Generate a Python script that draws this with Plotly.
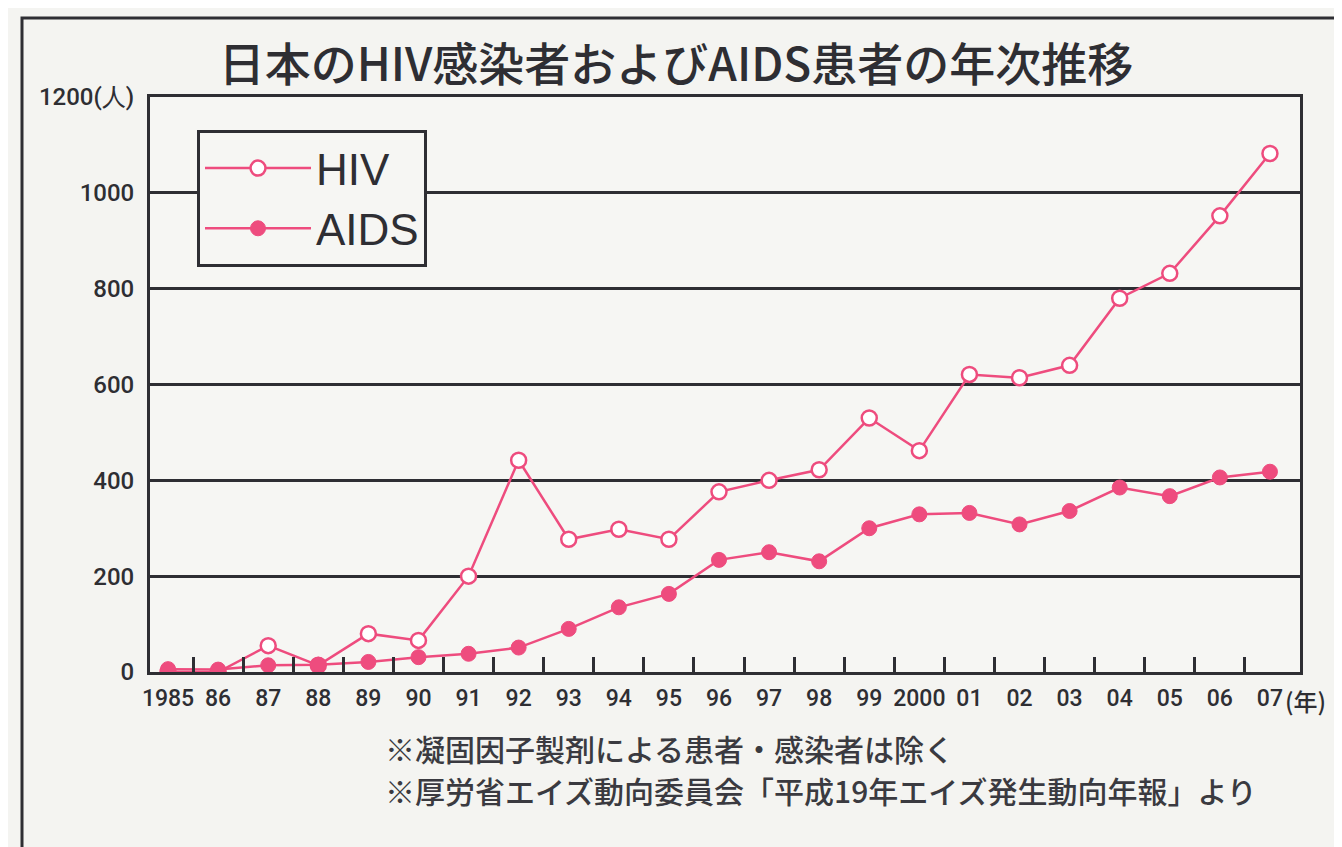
import plotly.graph_objects as go

years = list(range(1985, 2008))
year_labels = ["1985", "86", "87", "88", "89", "90", "91", "92", "93", "94", "95",
               "96", "97", "98", "99", "2000", "01", "02", "03", "04", "05", "06", "07"]
hiv = [0, 0, 55, 14, 80, 66, 200, 442, 277, 298, 277, 376, 400, 422, 530, 462,
       621, 614, 640, 780, 832, 952, 1082]
aids = [6, 5, 14, 15, 21, 31, 38, 51, 90, 135, 163, 234, 250, 231, 300, 329,
        332, 308, 336, 385, 367, 406, 418]
y_ticks = [0, 200, 400, 600, 800, 1000, 1200]
y_labels = ["0", "200", "400", "600", "800", "1000", "1200(人)"]

title = "日本のHIV感染者およびAIDS患者の年次推移"
notes = ["※凝固因子製剤による患者・感染者は除く",
         "※厚労省エイズ動向委員会「平成19年エイズ発生動向年報」より"]

PINK = "#EE4C7E"
INK = "#2E2E33"
NUM = "Roboto, Liberation Sans, sans-serif"
JP = "Noto Sans CJK JP, sans-serif"

# page body has an 8px default margin -> place everything 8px up/left
OFF = 8
W, H = 1342, 847
L, T, PW, PH = 150 - OFF, 97 - OFF, 1150, 575


def px_x(x):
    return (x - OFF - L) / PW


def px_y(y):
    return (T + PH - (y - OFF)) / PH


fig = go.Figure()
fig.add_trace(go.Scatter(
    x=years, y=hiv, name="HIV", mode="lines+markers",
    line=dict(color=PINK, width=2.5),
    marker=dict(symbol="circle", size=15, color="white", line=dict(color=PINK, width=2.5)),
))
fig.add_trace(go.Scatter(
    x=years, y=aids, name="AIDS", mode="lines+markers",
    line=dict(color=PINK, width=2.5),
    marker=dict(symbol="circle", size=15, color=PINK, line=dict(color=PINK, width=1)),
))

fig.update_layout(
    width=W, height=H,
    margin=dict(l=L, r=W - L - PW, t=T, b=H - T - PH, autoexpand=False),
    paper_bgcolor="#F4F4F1",
    plot_bgcolor="#F6F6F3",
    showlegend=True,
    title=dict(text=title, xref="container", x=(676 - OFF) / W, xanchor="center",
               yref="container", y=1 - (65 - OFF) / H, yanchor="middle",
               font=dict(family=JP, size=46, weight=500, color=INK)),
    legend=dict(x=px_x(197), y=px_y(130), xanchor="left", yanchor="top",
                bgcolor="#F6F6F3", bordercolor=INK, borderwidth=3,
                font=dict(family="Liberation Sans, Arial, sans-serif", size=44, color=INK),
                itemwidth=106, tracegroupgap=0),
    font=dict(family=NUM, color=INK),
)

fig.update_xaxes(
    range=[1984.64, 2007.6], automargin=False,
    tickmode="array", tickvals=years, ticktext=year_labels,
    ticks="", ticklabelstandoff=3,
    tickfont=dict(family=NUM, size=23, weight=500, color=INK),
    showgrid=False, zeroline=False,
    showline=True, linecolor=INK, linewidth=3, mirror=True,
    minor=dict(ticks="inside", tickvals=[y + 0.5 for y in years[:-1]],
               ticklen=15, tickwidth=3, tickcolor=INK, showgrid=False),
)
fig.update_yaxes(
    range=[0, 1200], automargin=False,
    tickmode="array", tickvals=y_ticks, ticktext=y_labels,
    ticks="", ticklabelstandoff=8,
    tickfont=dict(family=NUM, size=24, weight=500, color=INK),
    showgrid=True, gridcolor=INK, gridwidth=3,
    zeroline=False,
    showline=True, linecolor=INK, linewidth=3, mirror=True,
)

# outer frame of the figure panel
fig.add_shape(type="rect", xref="paper", yref="paper",
              x0=px_x(22), x1=1.3, y0=-0.6, y1=px_y(18),
              line=dict(color=INK, width=3), fillcolor="rgba(0,0,0,0)", layer="below")

fig.add_annotation(text="(年)", xref="paper", yref="paper", x=px_x(1283), y=px_y(700),
                   xanchor="left", yanchor="middle", showarrow=False,
                   font=dict(family=JP, size=24, weight=500, color=INK))
for i, note in enumerate(notes):
    fig.add_annotation(text=note, xref="paper", yref="paper",
                       x=px_x(383), y=px_y(748 + 42 * i),
                       xanchor="left", yanchor="middle", showarrow=False,
                       font=dict(family=JP, size=30, weight=500, color="#3A3A40"))

fig.write_html("out.html")
